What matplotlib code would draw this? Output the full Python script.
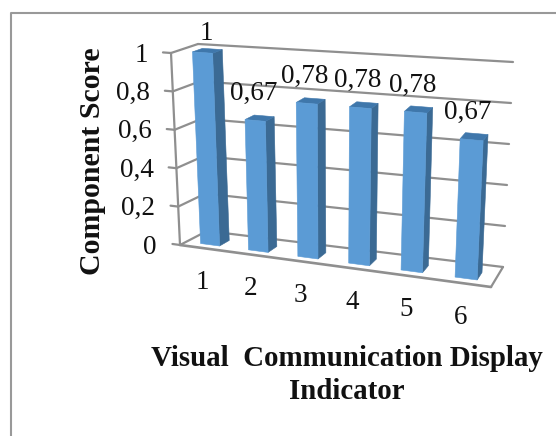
"""
Pseudo-3D column chart of component scores per visual communication indicator.
Writes out.png.
"""

import matplotlib
matplotlib.use("Agg")
import matplotlib.pyplot as plt
import numpy as np
from matplotlib.patches import Polygon

categories = ["1", "2", "3", "4", "5", "6"]
scores = [1, 0.67, 0.78, 0.78, 0.78, 0.67]
y_ticks = [0, 0.2, 0.4, 0.6, 0.8, 1]

FONT = "Liberation Serif"
GREY = "#8f8f8f"
FRONT = "#5b9bd5"
SIDE = "#3b6a94"
TOP = "#3f77ab"
TICK_SIZE = 19.5
TITLE_SIZE = 20.8

# Chart box corners in pixels, indexed [depth][value][category end]
# depth 0 = front, 1 = back wall
BOX = np.array([
    [[(180, 245), (491, 287)], [(171, 53), (501, 77)]],
    [[(207, 231), (503, 267)], [(198, 44), (513, 62)]],
], dtype=float)

BAR_W = 0.4
DEPTH_FRONT = 0.24
DEPTH_BACK = 0.62
PERSPECTIVE = 1.094
LABEL_CEILING = 33


def project(cat, value, depth):
    """Map category position (0..6), value (0..1), depth (0..1) to pixels."""
    t = cat / len(categories)
    # columns get wider apart towards the viewer on the right
    t = t / (PERSPECTIVE + (1 - PERSPECTIVE) * t)
    corner = lambda d, v: BOX[d][v][0] * (1 - t) + BOX[d][v][1] * t
    front = corner(0, 0) * (1 - value) + corner(0, 1) * value
    back = corner(1, 0) * (1 - value) + corner(1, 1) * value
    return front * (1 - depth) + back * depth


def line3d(ax, start, end, lw=1.6):
    a, b = project(*start), project(*end)
    ax.plot([a[0], b[0]], [a[1], b[1]], color=GREY, lw=lw,
            solid_capstyle="round", zorder=1)


def draw_bar(ax, i, value):
    left = i + 0.5 - BAR_W / 2
    right = i + 0.5 + BAR_W / 2
    front = [project(left, 0, DEPTH_FRONT), project(right, 0, DEPTH_FRONT),
             project(right, value, DEPTH_FRONT), project(left, value, DEPTH_FRONT)]
    side = [project(right, 0, DEPTH_FRONT), project(right, 0, DEPTH_BACK),
            project(right, value, DEPTH_BACK), project(right, value, DEPTH_FRONT)]
    top = [project(left, value, DEPTH_FRONT), project(right, value, DEPTH_FRONT),
           project(right, value, DEPTH_BACK), project(left, value, DEPTH_BACK)]
    for pts, color in ((side, SIDE), (top, TOP), (front, FRONT)):
        ax.add_patch(Polygon(pts, closed=True, facecolor=color, edgecolor=color,
                             lw=0.4, zorder=3))


fig = plt.figure(figsize=(5.56, 4.36), dpi=100, facecolor="white")
ax = fig.add_axes([0, 0, 1, 1])
ax.set_xlim(0, 556)
ax.set_ylim(436, 0)
ax.axis("off")

# Frame around the chart area, only the top and left edges show
ax.plot([10.5, 10.5, 556], [436, 13.5, 13.5], color="#999999", lw=1.5, zorder=1)

# Walls and floor
n = len(categories)
for v in y_ticks:
    line3d(ax, (0, v, 0), (0, v, 1))
    line3d(ax, (0, v, 1), (n, v, 1))
    line3d(ax, (-0.16, v, 0), (0, v, 0))
line3d(ax, (0, 0, 0), (0, 1, 0))
line3d(ax, (0, 0, 0), (n, 0, 0), lw=1.9)
line3d(ax, (n, 0, 0), (n, 0, 1))

for i, value in enumerate(scores):
    draw_bar(ax, i, value)

    # Value labels sit above the bar; a label that would leave the chart
    # is held at the ceiling instead
    px = project(i + 0.5, value, (DEPTH_FRONT + DEPTH_BACK) / 2)
    label_x, label_y = px[0] - 6, px[1] - 24.5
    if label_y < LABEL_CEILING:
        label_x, label_y = px[0] - 1, LABEL_CEILING
    ax.text(label_x, label_y, f"{value:g}".replace(".", ","),
            family=FONT, fontsize=TICK_SIZE, color="#111111",
            ha="center", va="center", zorder=4)

    px = project(i + 0.5, 0, 0)
    ax.text(px[0] - 2, px[1] + 34, categories[i], family=FONT, fontsize=TICK_SIZE,
            color="#111111", ha="center", va="center")

for v in y_ticks:
    px = project(0, v, 0)
    ax.text(px[0] - 23, px[1] + 2, f"{v:g}".replace(".", ","), family=FONT, fontsize=TICK_SIZE,
            color="#111111", ha="right", va="center")

ax.text(92, 161, "Component Score", family=FONT, fontsize=21.5, fontweight="bold",
        color="#111111", rotation=90, ha="center", va="center")
ax.text(347, 358, "Visual  Communication Display", family=FONT, fontsize=TITLE_SIZE,
        fontweight="bold", color="#111111", ha="center", va="center")
ax.text(347, 391, "Indicator", family=FONT, fontsize=TITLE_SIZE, fontweight="bold",
        color="#111111", ha="center", va="center")

fig.savefig("out.png", dpi=100, facecolor="white")
